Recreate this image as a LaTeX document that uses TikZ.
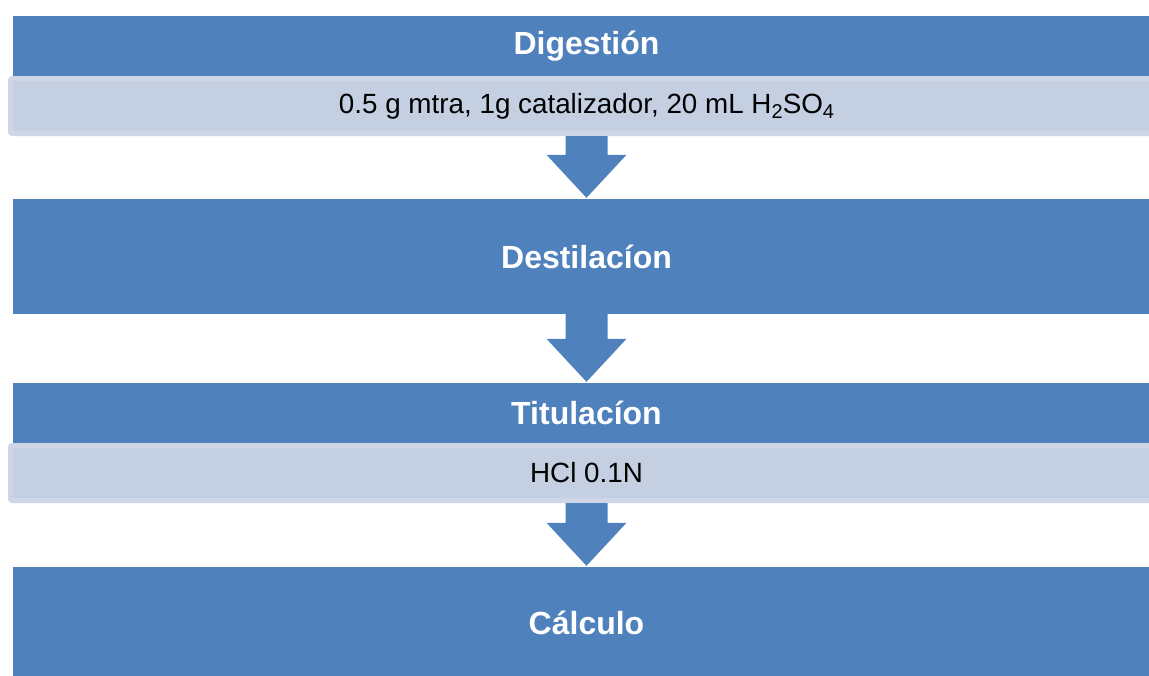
\documentclass[tikz,border=0pt]{standalone}
\usepackage{fontspec}
\setmainfont{Liberation Sans}
\usetikzlibrary{calc}
\definecolor{dblue}{HTML}{4F81BD}
\definecolor{lfill}{HTML}{C4CFE2}
\definecolor{lborder}{HTML}{CED6E7}
\newcommand\mysub[1]{\raisebox{-5pt}{\fontsize{20}{22}\selectfont #1}}
\tikzset{
  mainbox/.style={fill=dblue, draw=none, inner sep=0pt, minimum width=1147pt,
    text=white, font=\fontsize{32}{38}\selectfont\bfseries},
  subbox/.style={fill=lfill, draw=lborder, line width=5pt, rounded corners=2pt,
    inner sep=0pt, minimum width=1152pt, minimum height=55pt,
    text=black, font=\fontsize{27.8}{33}\selectfont},
  blockarr/.style={fill=dblue, draw=none}
}
\newcommand\blockarrow[2]{%
  \path let \p1=(#1.south), \p2=(#2.north) in
    [blockarr] (\x1-21pt,\y1) -- (\x1+21pt,\y1) -- (\x1+21pt,\y2+44pt)
    -- (\x1+40pt,\y2+44pt) -- (\x1,\y2+1pt) -- (\x1-40pt,\y2+44pt)
    -- (\x1-21pt,\y2+44pt) -- cycle;}
\begin{document}
\begin{tikzpicture}[x=1pt,y=-1pt]
\useasboundingbox (0,0) rectangle (1149,675);
\clip (0,0) rectangle (1149,675);
\fill[white] (0,0) rectangle (1149,675);
\node[mainbox, minimum height=60pt] (dig) at (586.5,46) {Digestión};
\node[subbox] (dsub) at (586.5,106) {0.5 g mtra, 1g catalizador, 20 mL H\mysub{2}SO\mysub{4}};
\node[mainbox, minimum height=115pt] (des) at (586.5,256.5) {Destilacíon};
\node[mainbox, minimum height=60pt] (tit) at (586.5,413) {Titulacíon};
\node[subbox] (tsub) at (586.5,473) {HCl 0.1N};
\node[mainbox, minimum height=112pt] (cal) at (586.5,623) {Cálculo};
\blockarrow{dsub}{des}
\blockarrow{des}{tit}
\blockarrow{tsub}{cal}
\end{tikzpicture}
\end{document}
